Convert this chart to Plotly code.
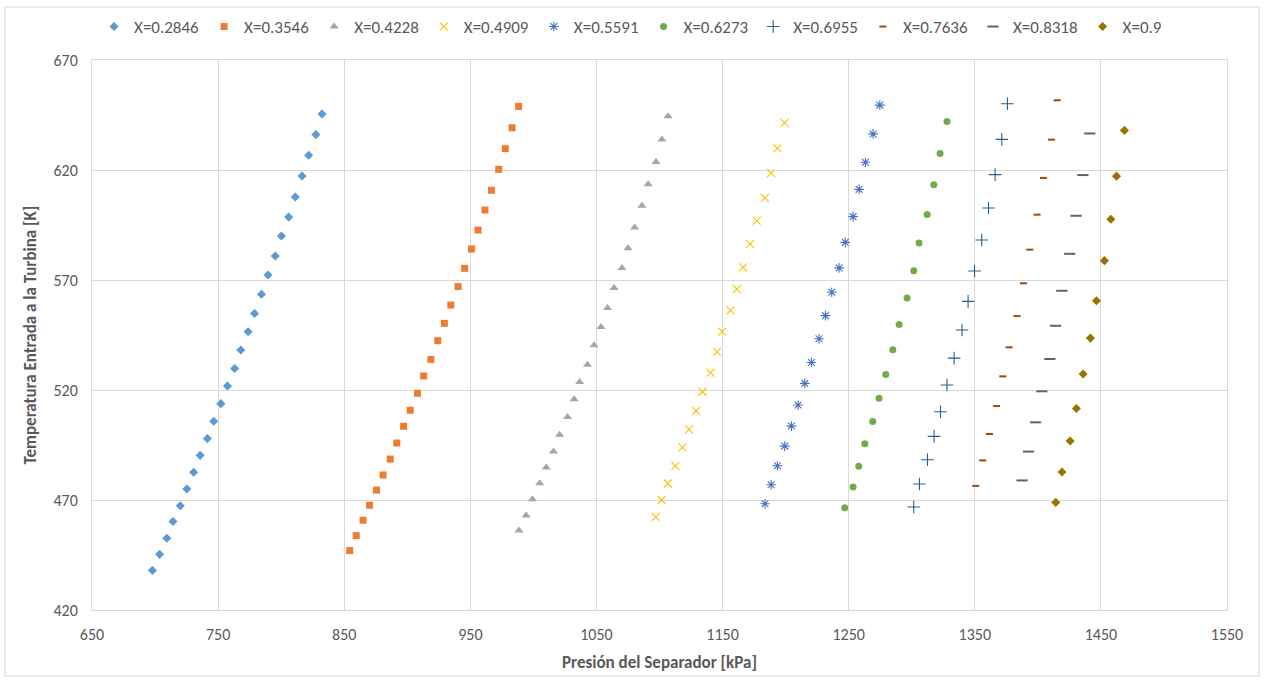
import plotly.graph_objects as go

# Calidad del vapor de cada serie
calidades = ["X=0.2846", "X=0.3546", "X=0.4228", "X=0.4909", "X=0.5591",
             "X=0.6273", "X=0.6955", "X=0.7636", "X=0.8318", "X=0.9"]

# Presión del separador [kPa] y temperatura de entrada a la turbina [K]
p_02846 = [697.9, 703.6, 709.3, 714.2, 720.0, 725.2, 730.6, 735.8, 741.5, 746.5,
           752.2, 757.4, 763.1, 768.0, 773.8, 778.9, 784.4, 789.6, 795.3, 800.2,
           806.0, 811.2, 816.6, 821.8, 827.5, 832.4]
t_02846 = [438.0, 445.3, 452.6, 460.2, 467.4, 475.0, 482.6, 490.3, 497.9, 505.8,
           513.8, 521.8, 529.8, 538.2, 546.5, 554.8, 563.5, 572.3, 580.9, 590.0,
           598.6, 607.7, 617.3, 626.7, 636.1, 645.5]

p_03546 = [854.3, 859.5, 864.9, 870.1, 875.6, 880.8, 886.5, 891.7, 897.1, 902.3,
           908.1, 913.0, 918.7, 924.2, 929.4, 934.5, 940.3, 945.5, 950.9, 956.1,
           961.6, 966.8, 972.5, 977.7, 983.1, 988.3]
t_03546 = [447.0, 453.8, 460.8, 467.6, 474.5, 481.4, 488.6, 495.9, 503.5, 510.8,
           518.5, 526.4, 533.9, 542.4, 550.3, 558.6, 567.0, 575.3, 584.1, 592.7,
           601.8, 610.8, 620.3, 629.7, 639.2, 648.9]

p_04228 = [988.6, 994.3, 999.2, 1005.0, 1010.2, 1015.9, 1020.8, 1027.1, 1032.3,
           1036.7, 1042.9, 1048.1, 1053.6, 1058.8, 1064.0, 1070.2, 1075.1, 1080.3,
           1086.1, 1091.0, 1097.2, 1101.9, 1106.8]
t_04228 = [456.1, 463.0, 470.3, 477.6, 484.8, 492.1, 499.7, 507.7, 515.8, 523.6,
           531.5, 540.3, 548.6, 557.3, 566.4, 575.5, 584.4, 593.9, 603.8, 613.5,
           623.6, 633.9, 644.4]

p_04909 = [1097.0, 1101.6, 1106.5, 1112.6, 1118.2, 1123.4, 1129.0, 1134.1, 1140.4,
           1145.6, 1149.6, 1156.3, 1161.3, 1166.3, 1171.8, 1177.1, 1183.5, 1188.5,
           1193.5, 1199.3]
t_04909 = [462.3, 470.0, 477.5, 485.5, 493.9, 502.1, 510.5, 519.2, 527.9, 537.3,
           546.5, 556.2, 565.9, 575.7, 586.4, 597.0, 607.3, 618.6, 629.8, 641.4]

p_05591 = [1183.7, 1188.5, 1193.5, 1199.3, 1204.6, 1209.9, 1215.2, 1220.5, 1226.5,
           1231.6, 1236.6, 1242.4, 1247.3, 1253.5, 1258.3, 1263.3, 1269.4, 1274.7]
t_05591 = [468.3, 476.9, 485.6, 494.5, 503.6, 513.2, 523.0, 532.5, 543.3, 553.8,
           564.4, 575.5, 587.1, 598.8, 611.2, 623.5, 636.4, 649.5]

p_06273 = [1246.9, 1253.5, 1258.0, 1262.8, 1269.1, 1274.1, 1279.4, 1285.0, 1290.0,
           1296.3, 1301.6, 1305.8, 1312.2, 1317.5, 1322.5, 1328.0]
t_06273 = [466.5, 475.9, 485.3, 495.6, 505.7, 516.2, 527.1, 538.3, 549.8, 561.8,
           574.2, 586.8, 599.8, 613.3, 627.5, 642.0]

p_06955 = [1301.6, 1306.1, 1312.5, 1317.7, 1322.8, 1328.0, 1333.6, 1339.9, 1344.7,
           1349.8, 1355.5, 1360.9, 1366.1, 1371.4, 1375.9]
t_06955 = [466.8, 477.3, 488.3, 498.9, 510.1, 522.3, 534.5, 547.3, 560.3, 574.1,
           588.2, 602.7, 617.9, 633.9, 650.1]

p_07636 = [1350.8, 1356.3, 1361.7, 1367.2, 1372.2, 1377.2, 1383.5, 1388.6, 1393.6,
           1399.4, 1404.5, 1410.8, 1415.3]
t_07636 = [476.4, 488.0, 500.0, 512.7, 526.2, 539.4, 553.6, 568.5, 583.8, 599.7,
           616.4, 633.8, 651.7]

p_08318 = [1387.5, 1392.6, 1398.2, 1403.2, 1409.5, 1414.0, 1419.0, 1425.3, 1430.3,
           1435.7, 1441.2]
t_08318 = [478.9, 492.0, 505.3, 519.4, 534.1, 549.2, 565.1, 581.9, 599.2, 617.7,
           636.6]

p_09 = [1414.2, 1419.2, 1425.6, 1430.6, 1435.9, 1441.7, 1446.5, 1452.8, 1457.9,
        1462.4, 1468.7]
t_09 = [468.9, 482.7, 496.8, 511.6, 527.3, 543.6, 560.6, 578.8, 597.6, 617.2, 638.0]

x_ticks = [650, 750, 850, 950, 1050, 1150, 1250, 1350, 1450, 1550]
y_ticks = [420, 470, 520, 570, 620, 670]

series = [
    (p_02846, t_02846, dict(symbol="diamond", color="#5B9BD5", size=7)),
    (p_03546, t_03546, dict(symbol="square", color="#ED7D31", size=7)),
    (p_04228, t_04228, dict(symbol="triangle-up", color="#A5A5A5", size=8)),
    (p_04909, t_04909, dict(symbol="x-thin-open", color="#FFC000", size=8,
                             line=dict(color="#FFC000", width=1.1))),
    (p_05591, t_05591, dict(symbol="asterisk-open", color="#4472C4", size=8,
                             line=dict(color="#4472C4", width=1.1))),
    (p_06273, t_06273, dict(symbol="circle", color="#70AD47", size=7)),
    (p_06955, t_06955, dict(symbol="cross-thin-open", color="#255E91", size=9,
                             line=dict(color="#255E91", width=1.1))),
    (p_07636, t_07636, dict(symbol="line-ew-open", color="#9E480E", size=5,
                             line=dict(color="#9E480E", width=2))),
    (p_08318, t_08318, dict(symbol="line-ew-open", color="#636363", size=8,
                             line=dict(color="#636363", width=2))),
    (p_09, t_09, dict(symbol="diamond", color="#997300", size=7)),
]

fig = go.Figure()
for name, (px, ty, mk) in zip(calidades, series):
    fig.add_trace(go.Scatter(x=px, y=ty, mode="markers", name=name, marker=mk))

font_family = "Carlito, 'Liberation Sans Narrow', Calibri, 'Open Sans', sans-serif"
grid = "#D9D9D9"

fig.update_layout(
    width=1264, height=680,
    margin=dict(l=92, r=37, t=60, b=70, autoexpand=False),
    paper_bgcolor="white", plot_bgcolor="white",
    font=dict(family=font_family, size=15, color="#595959"),
    legend=dict(orientation="h", x=0.4745, xanchor="center", y=1.06, yanchor="middle",
                font=dict(size=17, color="#595959"), itemwidth=30,
                bgcolor="rgba(0,0,0,0)", tracegroupgap=0),
    xaxis=dict(range=[650, 1550], tickvals=x_ticks, showgrid=True, gridcolor=grid,
               gridwidth=1, zeroline=False, showline=True, linecolor=grid,
               mirror=True, ticks="", ticklabelstandoff=10,
               tickfont=dict(size=16),
               title=dict(text="<b>Presión del Separador [kPa]</b>",
                          font=dict(size=17, color="#595959"), standoff=12)),
    yaxis=dict(range=[420, 670], tickvals=y_ticks, showgrid=True, gridcolor=grid,
               gridwidth=1, zeroline=False, showline=True, linecolor=grid,
               mirror=True, ticks="", ticklabelstandoff=10,
               tickfont=dict(size=16),
               title=dict(text="<b>Temperatura Entrada a la Turbina [K]</b>",
                          font=dict(size=17, color="#595959"), standoff=12)),
)

# Marco exterior del gráfico
fig.add_shape(type="rect", xref="paper", yref="paper",
              x0=(5 - 92) / 1135, x1=(1259 - 92) / 1135,
              y0=(610 - 676) / 550, y1=(610 - 7) / 550,
              line=dict(color="#D9D9D9", width=1), fillcolor="rgba(0,0,0,0)",
              layer="below")

fig.write_html("out.html")
